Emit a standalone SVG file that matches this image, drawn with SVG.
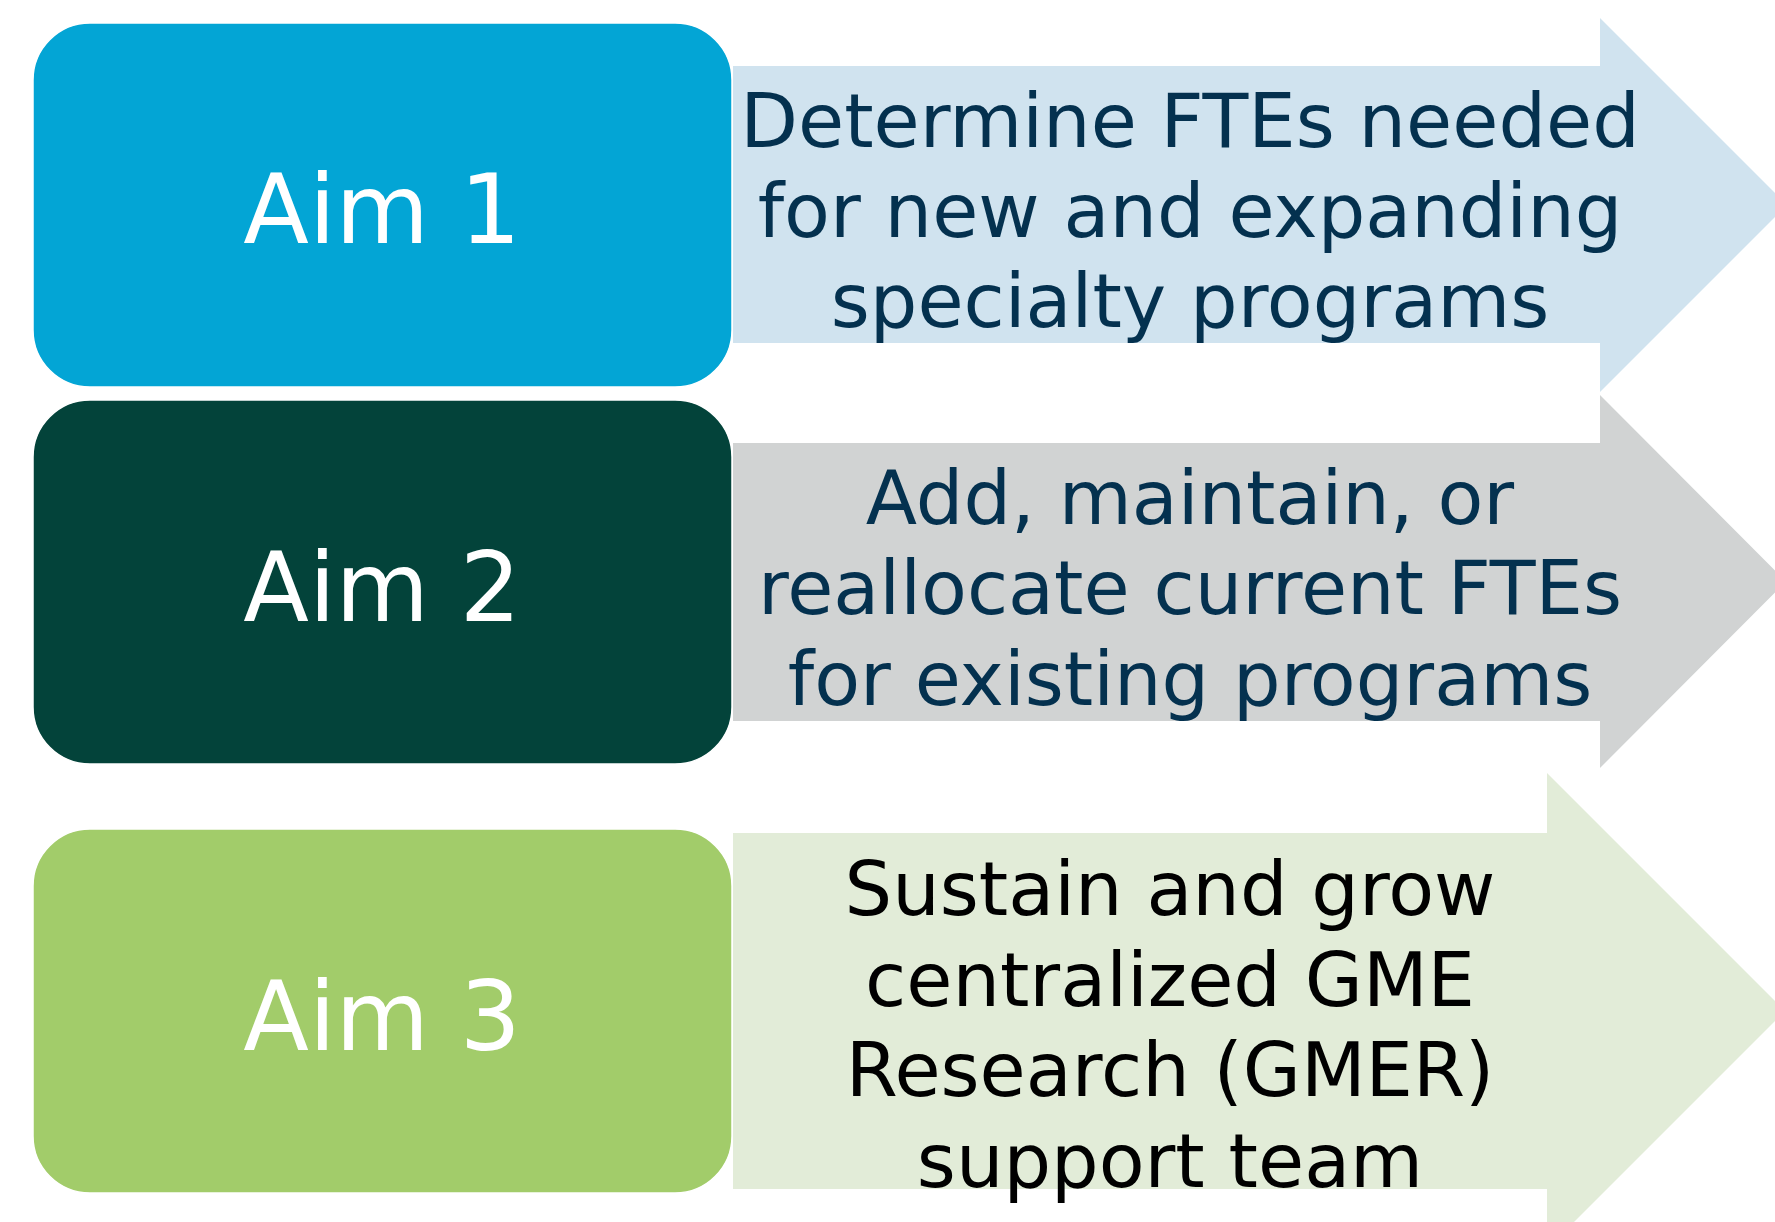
<svg xmlns="http://www.w3.org/2000/svg" width="1775" height="1222" viewBox="0 0 1775 1222">
<style>
.box{stroke:#ffffff;stroke-width:1.5}
.aim{font-family:"DejaVu Sans","Verdana",sans-serif;font-size:96px;fill:#ffffff;text-anchor:middle}
.desc{font-family:"DejaVu Sans","Verdana",sans-serif;font-size:75px;text-anchor:middle}
.navy{fill:#04314F}
.black{fill:#000000}
</style>
<rect width="1775" height="1222" fill="#ffffff"/>
<g id="arrow1">
<polygon points="733,66 1600,66 1600,18 1787,205 1600,392 1600,343 733,343" fill="#D0E3EF"/>
<text class="desc navy" x="1190" y="147">Determine FTEs needed</text>
<text class="desc navy" x="1190" y="237">for new and expanding</text>
<text class="desc navy" x="1190" y="327">specialty programs</text>
</g>
<g id="arrow2">
<polygon points="733,443 1600,443 1600,395 1786,581.5 1600,768 1600,721 733,721" fill="#D1D3D3"/>
<text class="desc navy" x="1190" y="524">Add, maintain, or</text>
<text class="desc navy" x="1190" y="614">reallocate current FTEs</text>
<text class="desc navy" x="1190" y="705">for existing programs</text>
</g>
<g id="arrow3">
<polygon points="733,833 1547,833 1547,773 1785,1011 1547,1249 1547,1189 733,1189" fill="#E2ECD8"/>
<text class="desc black" x="1170" y="915">Sustain and grow</text>
<text class="desc black" x="1170" y="1006">centralized GME</text>
<text class="desc black" x="1170" y="1096">Research (GMER)</text>
<text class="desc black" x="1170" y="1187">support team</text>
</g>
<g id="aim1">
<rect class="box" x="33" y="23" width="699" height="364" rx="57" ry="57" fill="#03A5D5"/>
<text class="aim" x="382" y="243">Aim 1</text>
</g>
<g id="aim2">
<rect class="box" x="33" y="400" width="699" height="364" rx="57" ry="57" fill="#03433A"/>
<text class="aim" x="382" y="621">Aim 2</text>
</g>
<g id="aim3">
<rect class="box" x="33" y="829" width="699" height="364" rx="57" ry="57" fill="#A2CC6A"/>
<text class="aim" x="382" y="1050">Aim 3</text>
</g>
<g id="connectors"></g>
</svg>
